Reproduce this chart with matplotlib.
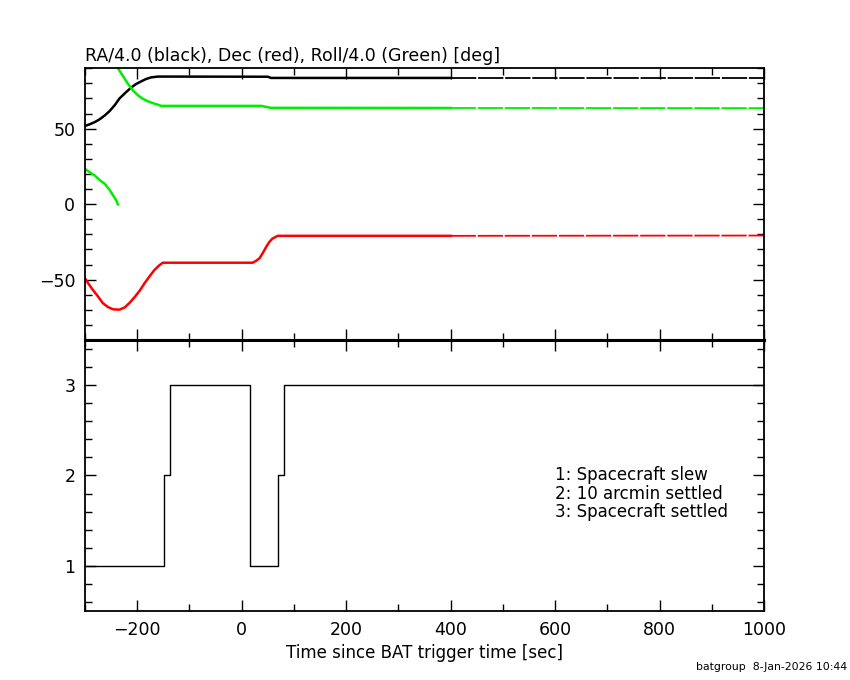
import numpy as np
import matplotlib
matplotlib.use("Agg")
import matplotlib.pyplot as plt
from matplotlib.ticker import MultipleLocator

# RA/4 (black)
ra_t = [-300, -291, -281, -272, -262, -253, -243, -234, -221, -211, -202, -192, -183, -173,
        -160, -150, 50, 56, 400, 1000]
ra_v = [51.8, 52.9, 54.4, 56.2, 58.8, 61.6, 65.6, 70.0, 74.3, 77.4, 79.6, 81.4, 82.9, 84.0,
        84.5, 84.5, 84.4, 83.6, 83.6, 83.6]

# Dec (red)
dec_t = [-300, -294, -285, -275, -266, -256, -246, -234, -224, -215, -205, -195, -186, -176,
         -167, -157, -151, 21, 27, 34, 40, 47, 53, 59, 69, 400, 1000]
dec_v = [-49.1, -52.4, -56.8, -61.2, -65.5, -68.2, -69.7, -69.9, -68.4, -65.5, -61.6, -57.2,
         -52.4, -47.6, -43.6, -40.3, -38.8, -38.8, -37.7, -35.9, -32.6, -28.3, -25.0, -22.8,
         -21.0, -21.0, -20.8]

# Roll/4 (green) - wraps at 0 -> 90
roll1_t = [-300, -291, -281, -272, -262, -253, -246, -240, -237]
roll1_v = [23.3, 21.1, 18.9, 16.0, 13.4, 9.5, 5.7, 2.4, -0.2]
roll2_t = [-237, -227, -218, -208, -199, -189, -180, -170, -160, -154, 37, 56, 400, 1000]
roll2_v = [90.0, 84.7, 79.8, 75.2, 72.2, 69.7, 68.2, 66.9, 65.8, 65.1, 65.1, 63.8, 63.7, 63.6]

# settling state
state_t = [-300, -149, -138, 15, 69, 81, 1000]
state_v = [1, 2, 3, 1, 2, 3, 3]

legend_lines = ["1: Spacecraft slew", "2: 10 arcmin settled", "3: Spacecraft settled"]

plt.rcParams['font.family'] = ['DejaVu Sans']

fig = plt.figure(figsize=(8.5, 6.8), dpi=100)
ax1 = fig.add_axes([0.1, 0.5, 0.7988, 0.3996])
ax2 = fig.add_axes([0.1, 0.1015, 0.7988, 0.3985])


def draw(ax, t, v, color):
    t = np.array(t, dtype=float)
    v = np.array(v, dtype=float)
    early = t <= 400
    ax.plot(t[early], v[early], color=color, lw=1.8)
    # after ~400 s the sampled points get sparse -> thinner line
    late = t >= 400
    ax.plot(t[late], v[late], color=color, lw=1.3, ls=(0, (14, 1)))


draw(ax1, ra_t, ra_v, 'black')
draw(ax1, dec_t, dec_v, '#ff0000')
draw(ax1, roll1_t, roll1_v, '#00ee00')
draw(ax1, roll2_t, roll2_v, '#00ee00')

ax1.set_xlim(-300, 1000)
ax1.set_ylim(-90, 90)
ax1.set_title("RA/4.0 (black), Dec (red), Roll/4.0 (Green) [deg]", loc='left', fontsize=12.5, pad=5)
ax1.yaxis.set_major_locator(MultipleLocator(50))
ax1.yaxis.set_minor_locator(MultipleLocator(10))
ax1.set_xticklabels([])

ax2.step(state_t, state_v, where='post', color='black', lw=1.0)
ax2.set_xlim(-300, 1000)
ax2.set_ylim(0.5, 3.5)
ax2.yaxis.set_major_locator(MultipleLocator(1))
ax2.yaxis.set_minor_locator(MultipleLocator(0.2))
ax2.set_xlabel("Time since BAT trigger time [sec]", fontsize=12, labelpad=4)

for i, line in enumerate(legend_lines):
    ax2.text(600, 2.0 - i * 0.2, line, fontsize=12, va='center', ha='left')

for ax in (ax1, ax2):
    ax.xaxis.set_major_locator(MultipleLocator(200))
    ax.xaxis.set_minor_locator(MultipleLocator(100))
    ax.tick_params(which='both', direction='in', top=True, right=True, width=1.0,
                   labelsize=12.5, pad=7)
    ax.tick_params(which='major', length=8)
    ax.tick_params(which='minor', length=5)
    for s in ax.spines.values():
        s.set_linewidth(1.3)

ax1.spines['bottom'].set_linewidth(2.2)
ax2.spines['top'].set_linewidth(2.2)

fig.text(0.997, 0.012, "batgroup  8-Jan-2026 10:44", ha='right', va='bottom', fontsize=7.8)

fig.savefig("out.png", dpi=100)
